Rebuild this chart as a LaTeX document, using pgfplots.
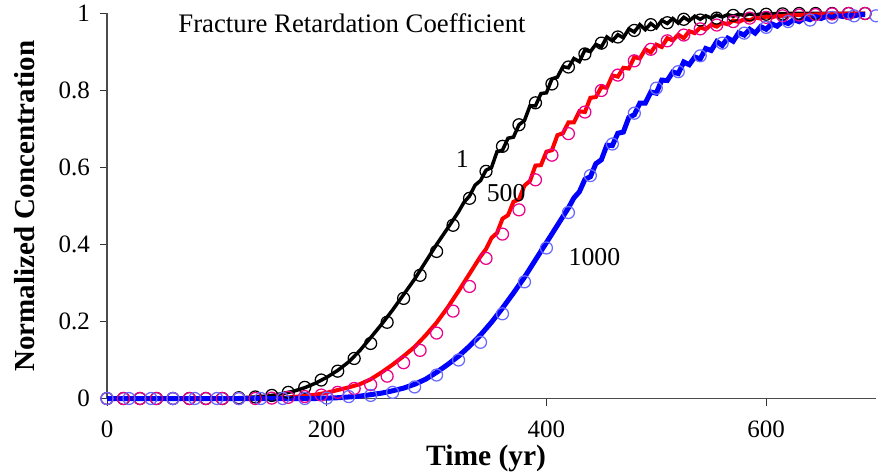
\documentclass[border=0pt]{standalone}
\usepackage{fontspec}
\setmainfont{Liberation Serif}
\usepackage{pgfplots}
\pgfplotsset{compat=1.18}
\usetikzlibrary{calc}
\definecolor{circblue}{RGB}{105,105,255}
\begin{document}
\begin{tikzpicture}
\begin{axis}[
  scale only axis,
  width=307.6pt, height=154pt,
  xmin=0, xmax=700, ymin=0, ymax=1,
  axis x line=bottom, axis y line=left,
  axis line style={-, black!70, line width=0.5pt},
  xtick={0,200,400,600},
  ytick={0,0.2,0.4,0.6,0.8,1},
  yticklabels={0,0.2,0.4,0.6,0.8,1},
  tick align=outside,
  major tick length=2.8pt,
  tick style={black!80, line width=0.4pt},
  /pgf/number format/assume math mode=true,
  tick label style={font=\fontsize{10}{12}\selectfont},
  xticklabel style={inner sep=1pt, yshift=-5.0pt},
  yticklabel style={xshift=-0.5pt},
  xlabel={\textbf{Time (yr)}},
  ylabel={\textbf{Normalized Concentration}},
  xlabel style={font=\fontsize{11.8}{14}\selectfont, inner sep=0pt, at={(axis description cs:0.493,-0.173)}, anchor=base},
  ylabel style={font=\fontsize{11.6}{14}\selectfont, at={(axis description cs:-0.1066,0.5)}, anchor=center},
  clip=false,
]
% black line (R=1)
\addplot[black, line width=1.4pt] coordinates {
(0,0) (100,0) (110,0.001) (120,0.002) (130,0.003) (140,0.005) (150,0.008) (160,0.013) (170,0.019) (180,0.028) (190,0.040) (200,0.055) (210,0.073) (220,0.095) (230,0.124) (240,0.158) (250,0.193) (260,0.230) (270,0.270) (280,0.310) (290,0.355) (300,0.400) (310,0.442) (320,0.485)
(325,0.510) (330,0.526) (335,0.554) (340,0.566) (345,0.593) (350,0.600) (355,0.641) (360,0.645) (365,0.676) (370,0.679) (375,0.711) (380,0.722) (385,0.760) (390,0.760) (395,0.792) (400,0.794) (405,0.830) (410,0.835) (415,0.862) (420,0.859) (425,0.883) (430,0.875) (435,0.905) (440,0.901) (445,0.920) (450,0.913) (455,0.939) (460,0.929) (465,0.945) (470,0.937) (475,0.960) (480,0.952) (485,0.971) (490,0.958) (495,0.974) (500,0.963) (505,0.982) (510,0.974) (515,0.987) (520,0.975) (525,0.990) (530,0.981) (535,0.993) (540,0.985) (545,0.994) (550,0.988) (555,0.996) (560,0.991) (565,0.997) (570,0.993) (575,0.998) (580,0.995) (585,0.999) (590,0.996) (595,0.999) (600,0.999) (620,1.0) (690,1.0)
};
% red line (R=500)
\addplot[red, line width=1.6pt] coordinates {
(0,0) (140,0) (150,0.001) (160,0.002) (170,0.004) (180,0.007) (190,0.010) (200,0.015) (210,0.022) (220,0.029) (230,0.037) (240,0.050) (250,0.068) (260,0.088) (270,0.110) (280,0.134) (290,0.164) (300,0.197) (310,0.236) (320,0.279) (330,0.324) (340,0.369)
(345,0.388) (350,0.417) (355,0.430) (360,0.467) (365,0.476) (370,0.511) (375,0.517) (380,0.553) (385,0.565) (390,0.605) (395,0.606) (400,0.641) (405,0.645) (410,0.684) (415,0.689) (420,0.717) (425,0.717) (430,0.746) (435,0.744) (440,0.781) (445,0.783) (450,0.809) (455,0.807) (460,0.839) (465,0.836) (470,0.859) (475,0.857) (480,0.887) (485,0.883) (490,0.907) (495,0.899) (500,0.919) (505,0.913) (510,0.936) (515,0.930) (520,0.945) (525,0.936) (530,0.954) (535,0.949) (540,0.964) (545,0.959) (550,0.971) (555,0.966) (560,0.976) (565,0.972) (570,0.982) (575,0.978) (580,0.985) (585,0.982) (590,0.989) (595,0.987) (600,0.992) (605,0.990) (610,0.994) (615,0.993) (620,0.995) (640,0.997) (660,0.999) (690,1.0)
};
% blue line (R=1000)
\addplot[blue, line width=2pt] coordinates {
(0,0) (190,0) (200,0.001) (210,0.002) (220,0.004) (230,0.006) (240,0.010) (250,0.014) (260,0.020) (270,0.027) (280,0.037) (290,0.050) (300,0.068) (310,0.088) (320,0.110) (330,0.136) (340,0.165) (350,0.198) (360,0.235) (370,0.274) (380,0.315) (390,0.360) (400,0.405) (410,0.450) (420,0.495)
(425,0.521) (430,0.537) (435,0.569) (440,0.576) (445,0.610) (450,0.620) (455,0.658) (460,0.657) (465,0.689) (470,0.692) (475,0.730) (480,0.737) (485,0.767) (490,0.767) (495,0.796) (500,0.793) (505,0.827) (510,0.826) (515,0.848) (520,0.844) (525,0.874) (530,0.867) (535,0.887) (540,0.882) (545,0.909) (550,0.904) (555,0.927) (560,0.917) (565,0.936) (570,0.928) (575,0.950) (580,0.944) (585,0.959) (590,0.949) (595,0.966) (600,0.959) (605,0.973) (610,0.967) (615,0.979) (620,0.974) (625,0.984) (630,0.979) (635,0.988) (640,0.984) (645,0.992) (650,0.987) (655,0.993) (660,0.990) (665,0.995) (670,0.992) (675,0.996) (680,0.994) (685,0.997) (690,0.997)
};
% black circles
\addplot[only marks, mark=o, mark size=2.4pt, mark options={black, fill=white, line width=0.5pt}] coordinates {
(0,0) (15,0) (30,0) (45,0) (60,0) (75,0) (90,0) (105,0) (120,0.002) (135,0.004) (150,0.008) (165,0.016) (180,0.029) (195,0.048) (210,0.071) (225,0.104) (240,0.143) (255,0.198) (270,0.260) (285,0.320) (300,0.382) (315,0.450) (330,0.520) (345,0.590) (360,0.655) (375,0.711) (390,0.768) (405,0.817) (420,0.861) (435,0.895) (450,0.923) (465,0.939) (480,0.956) (495,0.971) (510,0.976) (525,0.985) (540,0.983) (555,0.988) (570,0.995) (585,0.997) (600,0.998) (615,0.999) (630,1) (645,1) (660,1) (675,1) (690,1)
};
% magenta circles
\addplot[only marks, mark=o, mark size=2.4pt, mark options={magenta, fill=white, line width=0.5pt}] coordinates {
(0,0) (15,0) (30,0) (45,0) (60,0) (75,0) (90,0) (105,0) (120,0) (135,0) (150,0.001) (165,0.003) (180,0.005) (195,0.009) (210,0.016) (225,0.026) (240,0.036) (255,0.058) (270,0.093) (285,0.125) (300,0.170) (315,0.227) (330,0.291) (345,0.364) (360,0.427) (375,0.490) (390,0.568) (405,0.632) (420,0.688) (435,0.744) (450,0.800) (465,0.840) (480,0.877) (495,0.907) (510,0.929) (525,0.944) (540,0.960) (555,0.970) (570,0.979) (585,0.988) (600,0.990) (615,0.994) (630,0.996) (645,0.997) (660,0.999) (675,1) (690,1)
};
% blue circles
\addplot[only marks, mark=o, mark size=2.4pt, mark options={circblue, fill=white, line width=0.5pt}] coordinates {
(0,0) (20,0) (40,0) (60,0) (80,0) (100,0) (120,0) (140,0) (160,0) (180,0) (200,0.001) (220,0.005) (240,0.008) (260,0.016) (280,0.030) (300,0.061) (320,0.100) (340,0.146) (360,0.220) (380,0.303) (400,0.391) (420,0.483) (440,0.579) (460,0.661) (480,0.741) (500,0.806) (520,0.849) (540,0.890) (560,0.923) (580,0.949) (600,0.964) (620,0.979) (640,0.983) (660,0.990) (680,0.994) (700,0.994)
};
\node[anchor=base, font=\fontsize{10.7}{12}\selectfont] at (axis cs:223,0.95) {Fracture Retardation Coefficient};
\node[anchor=base, font=\fontsize{10.3}{12}\selectfont] at (axis cs:323.5,0.599) {1};
\node[anchor=base, font=\fontsize{10.3}{12}\selectfont] at (axis cs:363.3,0.512) {500};
\node[anchor=base, font=\fontsize{10.3}{12}\selectfont] at (axis cs:443.7,0.345) {1000};
\end{axis}
\pgfresetboundingbox
\path[use as bounding box] ($(current axis.south west)+(-42.8pt,-30.4pt)$) rectangle ($(current axis.north east)+(0.8pt,5.4pt)$);
\end{tikzpicture}
\end{document}
